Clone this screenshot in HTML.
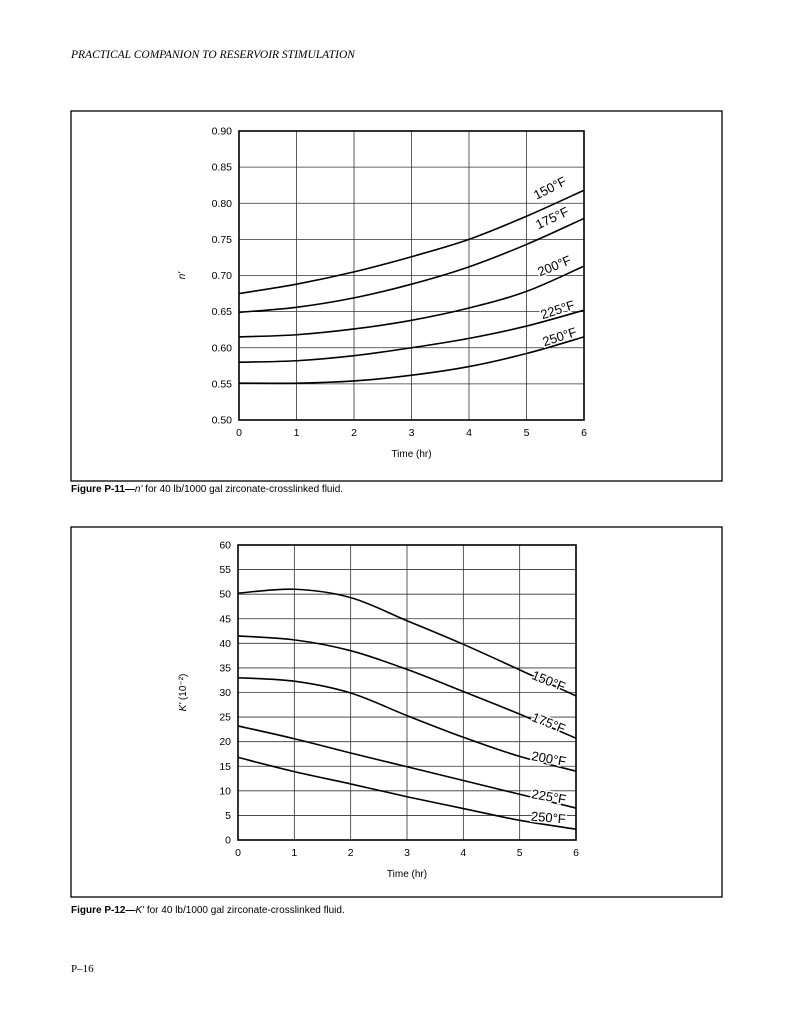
<!DOCTYPE html>
<html><head><meta charset="utf-8"><style>
html,body{margin:0;padding:0;background:#fff;}
svg{display:block;}
</style></head><body>
<svg id="s" width="791" height="1024" viewBox="0 0 791 1024" xmlns="http://www.w3.org/2000/svg" font-family="Liberation Sans, sans-serif">
<text x="71" y="58" font-family="Liberation Serif, serif" font-style="italic" font-size="11.5">PRACTICAL COMPANION TO RESERVOIR STIMULATION</text>
<rect x="71" y="111" width="651" height="370" fill="none" stroke="#000" stroke-width="1.3"/>
<rect x="71" y="527" width="651" height="370" fill="none" stroke="#000" stroke-width="1.3"/>
<text x="71" y="492" font-size="10"><tspan font-weight="bold">Figure P-11—</tspan><tspan font-style="italic">n'</tspan> for 40 lb/1000 gal zirconate-crosslinked fluid.</text>
<text x="71" y="913" font-size="10"><tspan font-weight="bold">Figure P-12—</tspan><tspan font-style="italic">K'</tspan> for 40 lb/1000 gal zirconate-crosslinked fluid.</text>
<text x="71" y="972" font-family="Liberation Serif, serif" font-size="11">P–16</text>
<g id="g"></g>
</svg>
<script>
var g=document.getElementById('g'),NS='http://www.w3.org/2000/svg';
function el(t,a,txt){var e=document.createElementNS(NS,t);for(var k in a)e.setAttribute(k,a[k]);if(txt!=null)e.textContent=txt;g.appendChild(e);return e;}
function path(pts){var d='M'+pts[0][0]+','+pts[0][1];for(var i=0;i<pts.length-1;i++){var p0=pts[i-1]||pts[i],p1=pts[i],p2=pts[i+1],p3=pts[i+2]||p2;
d+=' C'+(p1[0]+(p2[0]-p0[0])/6)+','+(p1[1]+(p2[1]-p0[1])/6)+' '+(p2[0]-(p3[0]-p1[0])/6)+','+(p2[1]-(p3[1]-p1[1])/6)+' '+p2[0]+','+p2[1];}return d;}
function chart(L,R,T,B,ymin,ymax,ystep,fmt,series,labels,ylab,ylx){
 var X=function(t){return L+(R-L)*t/6},Y=function(v){return B-(B-T)*(v-ymin)/(ymax-ymin)};
 for(var i=1;i<6;i++)el('line',{x1:X(i),y1:T,x2:X(i),y2:B,stroke:'#333','stroke-width':0.8});
 var n=Math.round((ymax-ymin)/ystep);
 for(var j=1;j<n;j++)el('line',{x1:L,y1:Y(ymin+j*ystep),x2:R,y2:Y(ymin+j*ystep),stroke:'#333','stroke-width':0.8});
 for(var j=0;j<=n;j++)el('text',{x:L-7,y:Y(ymin+j*ystep)+3.5,'font-size':10.5,'text-anchor':'end'},fmt(ymin+j*ystep));
 for(var i=0;i<=6;i++)el('text',{x:X(i),y:B+16,'font-size':10.5,'text-anchor':'middle'},''+i);
 el('text',{x:(L+R)/2,y:B+37,'font-size':10,'text-anchor':'middle'},'Time (hr)');
 el('rect',{x:L,y:T,width:R-L,height:B-T,fill:'none',stroke:'#000','stroke-width':1.6});
 series.forEach(function(s,k){var pts=s.map(function(v,i){return [X(i),Y(v)]});
  el('path',{d:path(pts),fill:'none',stroke:'#000','stroke-width':1.6});
  var lb=labels[k];el('text',{x:lb[0],y:lb[1],'font-size':13,'text-anchor':'middle',stroke:'#fff','stroke-width':3,fill:'#fff',transform:'rotate('+lb[2]+' '+lb[0]+' '+lb[1]+')'},lb[3]);
  el('text',{x:lb[0],y:lb[1],'font-size':13,'text-anchor':'middle',transform:'rotate('+lb[2]+' '+lb[0]+' '+lb[1]+')'},lb[3]);
 });
 var t=el('text',{x:ylx,y:(T+B)/2,'font-size':10,'text-anchor':'middle','font-style':'italic',transform:'rotate(-90 '+ylx+' '+(T+B)/2+')'},ylab);
 return t;
}
chart(239,584,131,420,0.5,0.9,0.05,function(v){return v.toFixed(2)},
[[.675,.688,.705,.726,.750,.782,.818],[.649,.656,.669,.688,.712,.743,.779],[.615,.618,.626,.638,.655,.678,.713],[.580,.582,.589,.600,.613,.630,.652],[.551,.551,.554,.562,.574,.592,.615]],
[[552,192,-27,'150°F'],[554,222,-25,'175°F'],[556,270,-22,'200°F'],[559,314,-18,'225°F'],[561,341,-18,'250°F']],"n'",185);
var yl=chart(238,576,545,840,0,60,5,function(v){return ''+Math.round(v)},
[[50.2,51,49.3,44.6,39.8,34.6,29.3],[41.5,40.7,38.5,34.7,30.2,25.6,20.7],[33,32.3,29.9,25.3,20.9,17,14],[23.2,20.6,17.7,14.9,12.1,9.3,6.5],[16.8,13.9,11.4,8.8,6.4,4.0,2.2]],
[[547,685,22,'150°F'],[547,727,22,'175°F'],[548,763,10,'200°F'],[548,801,10,'225°F'],[548,822,5,'250°F']],"",186);
yl.textContent='';
var a=yl;var t1=document.createElementNS(NS,'tspan');t1.setAttribute('font-style','italic');t1.textContent="K'";a.appendChild(t1);
var t2=document.createElementNS(NS,'tspan');t2.setAttribute('font-style','normal');t2.textContent=' (10⁻²)';a.appendChild(t2);
</script>
</body></html>
